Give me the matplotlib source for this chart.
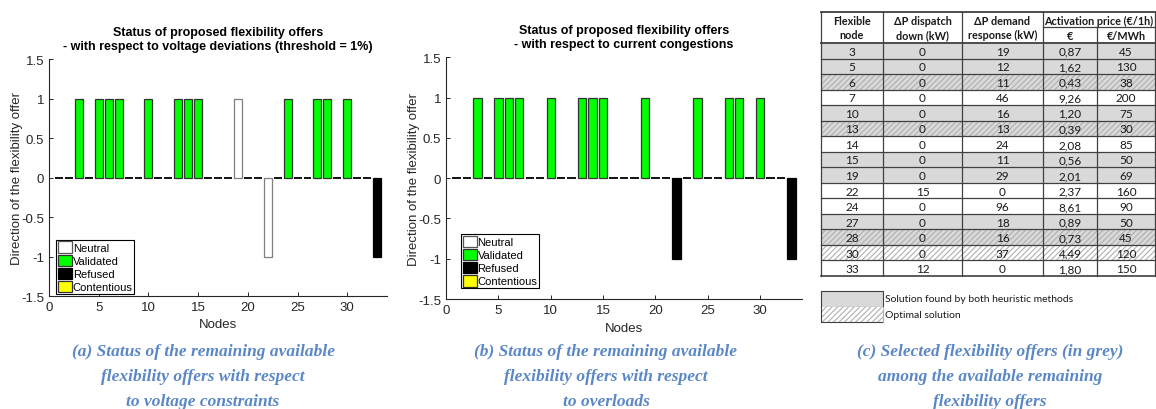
import numpy as np
import matplotlib.pyplot as plt
from matplotlib.patches import Patch, Rectangle
from matplotlib import rcParams

rcParams['font.family'] = ['Liberation Sans', 'DejaVu Sans']
rcParams['hatch.linewidth'] = 0.8

# Node-wise direction of each offer (+1 up, -1 down, 0 no offer) and status
nodes = np.arange(1, 34)
dir_voltage = [0, 0, 1, 0, 1, 1, 1, 0, 0, 1, 0, 0, 1, 1, 1, 0, 0, 0, 1, 0, 0, -1, 0, 1, 0, 0, 1, 1, 0, 1, 0, 0, -1]
stat_voltage = ['-', '-', 'V', '-', 'V', 'V', 'V', '-', '-', 'V', '-', '-', 'V', 'V', 'V', '-', '-', '-', 'N', '-', '-', 'N', '-', 'V', '-', '-', 'V', 'V', '-', 'V', '-', '-', 'R']
dir_current = [0, 0, 1, 0, 1, 1, 1, 0, 0, 1, 0, 0, 1, 1, 1, 0, 0, 0, 1, 0, 0, -1, 0, 1, 0, 0, 1, 1, 0, 1, 0, 0, -1]
stat_current = ['-', '-', 'V', '-', 'V', 'V', 'V', '-', '-', 'V', '-', '-', 'V', 'V', 'V', '-', '-', '-', 'V', '-', '-', 'R', '-', 'V', '-', '-', 'V', 'V', '-', 'V', '-', '-', 'R']

# Table of selected offers
tab_nodes = [3, 5, 6, 7, 10, 13, 14, 15, 19, 22, 24, 27, 28, 30, 33]
dispatch_down = [0, 0, 0, 0, 0, 0, 0, 0, 0, 15, 0, 0, 0, 0, 12]
demand_resp = [19, 12, 11, 46, 16, 13, 24, 11, 29, 0, 96, 18, 16, 37, 0]
price_eur = ['0,87', '1,62', '0,43', '9,26', '1,20', '0,39', '2,08', '0,56', '2,01', '2,37', '8,61', '0,89', '0,73', '4,49', '1,80']
price_mwh = [45, 130, 38, 200, 75, 30, 85, 50, 69, 160, 90, 50, 45, 120, 150]
heuristic = [1, 1, 1, 0, 1, 1, 0, 1, 1, 0, 0, 1, 1, 0, 0]
optimal = [0, 0, 1, 0, 0, 1, 0, 0, 0, 0, 0, 0, 1, 1, 0]

styles = {
    'N': ('Neutral', 'white', '#7f7f7f'),
    'V': ('Validated', '#00ff00', '#333333'),
    'R': ('Refused', 'black', 'black'),
    'C': ('Contentious', 'yellow', '#333333'),
}
axc = '#262626'

fig = plt.figure(figsize=(11.56, 4.10), dpi=100)


def status_plot(rect, dirs, stats, title, leg_anchor):
    ax = fig.add_axes(rect)
    dirs = np.array(dirs)
    stats = np.array(stats)
    zero = stats == '-'
    ax.bar(nodes[zero], dirs[zero], width=0.8, color='white', edgecolor='black', linewidth=1.3)
    for k in ['N', 'V', 'R']:
        m = stats == k
        if m.any():
            lab, fc, ec = styles[k]
            ax.bar(nodes[m], dirs[m], width=0.8, color=fc, edgecolor=ec, linewidth=0.9)
    ax.set_xlim(0, 34)
    ax.set_ylim(-1.5, 1.5)
    ax.set_xticks([0, 5, 10, 15, 20, 25, 30])
    ax.set_yticks([-1.5, -1, -0.5, 0, 0.5, 1, 1.5])
    ax.set_yticklabels(['-1.5', '-1', '-0.5', '0', '0.5', '1', '1.5'])
    ax.tick_params(direction='in', length=3, labelsize=9.5, colors=axc, width=0.7)
    for s in ['top', 'right']:
        ax.spines[s].set_visible(False)
    for s in ['left', 'bottom']:
        ax.spines[s].set_color(axc)
        ax.spines[s].set_linewidth(0.8)
    ax.set_xlabel('Nodes', fontsize=9.5, color=axc, labelpad=4)
    ax.set_ylabel('Direction of the flexibility offer', fontsize=9.5, color=axc, labelpad=-1)
    ax.set_title(title, fontsize=9, fontweight='bold', color='black', pad=7, linespacing=1.25)
    handles = [Patch(facecolor=styles[k][1], edgecolor=styles[k][2] if k != 'N' else '#555555',
                     linewidth=0.9, label=styles[k][0]) for k in ['N', 'V', 'R', 'C']]
    leg = ax.legend(handles=handles, loc='lower left', bbox_to_anchor=leg_anchor, fontsize=8,
                    frameon=True, fancybox=False, edgecolor='black', framealpha=1,
                    handlelength=1.3, handleheight=1.25, handletextpad=0.05,
                    borderpad=0.15, labelspacing=0.12, borderaxespad=0)
    leg.get_frame().set_linewidth(0.8)
    return ax


status_plot([0.0424, 0.2756, 0.2924, 0.578], dir_voltage, stat_voltage,
            'Status of proposed flexibility offers\n- with respect to voltage deviations (threshold = 1%)',
            (0.021, 0.008))
status_plot([0.3858, 0.268, 0.308, 0.590], dir_current, stat_current,
            'Status of proposed flexibility offers\n- with respect to current congestions',
            (0.042, 0.045))

# Table drawn on an overlay in pixel coordinates
tab = fig.add_axes([0, 0, 1, 1])
tab.set_xlim(0, 1156)
tab.set_ylim(410, 0)
tab.axis('off')
tab.patch.set_alpha(0)

cols = [821, 883, 962, 1043, 1097, 1155]
top, mid, hdr_bot = 13, 28, 44
row_h = (277 - hdr_bot) / len(tab_nodes)
tfont = dict(family=['Lato', 'DejaVu Sans'], fontsize=8.5, color='#1a1a1a', ha='center', va='center')
line_c = '#404040'

for i in range(len(tab_nodes)):
    y0 = hdr_bot + i * row_h
    fc = '#d9d9d9' if heuristic[i] else 'white'
    tab.add_patch(Rectangle((cols[0], y0), cols[-1] - cols[0], row_h, facecolor=fc, edgecolor='none'))
    if optimal[i]:
        tab.add_patch(Rectangle((cols[0], y0), cols[-1] - cols[0], row_h, facecolor='none',
                                edgecolor='#b0b0b0', hatch='//////', linewidth=0))
    vals = [tab_nodes[i], dispatch_down[i], demand_resp[i], price_eur[i], price_mwh[i]]
    for j, v in enumerate(vals):
        tab.text((cols[j] + cols[j + 1]) / 2, y0 + row_h / 2 + 0.5, str(v), **tfont)
    tab.plot([cols[0], cols[-1]], [y0, y0], color=line_c, lw=0.9 if i else 1.3)

bot = hdr_bot + len(tab_nodes) * row_h
tab.plot([cols[0], cols[-1]], [bot, bot], color=line_c, lw=1.2)
tab.plot([cols[0], cols[-1]], [top, top], color=line_c, lw=1.3)
tab.plot([cols[3], cols[-1]], [mid, mid], color=line_c, lw=0.9)
for j, x in enumerate(cols):
    y_start = mid if j == 4 else top
    tab.plot([x, x], [y_start, bot], color=line_c, lw=0.9)

hfont = dict(tfont, fontweight='bold', fontsize=7.8)
heads = ['Flexible\nnode', '\u0394P dispatch\ndown (kW)', '\u0394P demand\nresponse (kW)']
for j, h in enumerate(heads):
    tab.text((cols[j] + cols[j + 1]) / 2, (top + hdr_bot) / 2, h, linespacing=1.35, **hfont)
tab.text((cols[3] + cols[5]) / 2, (top + mid) / 2 + 0.5, 'Activation price (\u20ac/1h)', **hfont)
tab.text((cols[3] + cols[4]) / 2, (mid + hdr_bot) / 2 + 0.5, '\u20ac', **hfont)
tab.text((cols[4] + cols[5]) / 2, (mid + hdr_bot) / 2 + 0.5, '\u20ac/MWh', **hfont)

# Table legend
tab.add_patch(Rectangle((cols[0], 292), cols[1] - cols[0], 15.5, facecolor='#d9d9d9', edgecolor=line_c, lw=0.8))
tab.add_patch(Rectangle((cols[0], 307.5), cols[1] - cols[0], 15.5, facecolor='white', edgecolor='#b0b0b0',
                        hatch='//////', lw=0))
tab.plot([cols[0], cols[0], cols[1]], [307.5, 323, 323], color=line_c, lw=0.8)
tab.plot([cols[1], cols[1]], [307.5, 323], color='#b0b0b0', lw=0.8)
tab.text(cols[1] + 2, 300, 'Solution found by both heuristic methods', **dict(tfont, ha='left', fontsize=7.5))
tab.text(cols[1] + 2, 316, 'Optimal solution', **dict(tfont, ha='left', fontsize=7.5))

# Captions
captions = [
    (203, '(a) Status of the remaining available\nflexibility offers with respect\nto voltage constraints'),
    (606, '(b) Status of the remaining available\nflexibility offers with respect\nto overloads'),
    (990, '(c) Selected flexibility offers (in grey)\namong the available remaining\nflexibility offers'),
]
for x, txt in captions:
    tab.text(x, 377, txt, family=['Liberation Serif', 'DejaVu Serif'], style='italic', fontweight='bold',
             fontsize=12.5, color='#5a87c6', ha='center', va='center', linespacing=1.75)

fig.savefig('out.png', dpi=100)
